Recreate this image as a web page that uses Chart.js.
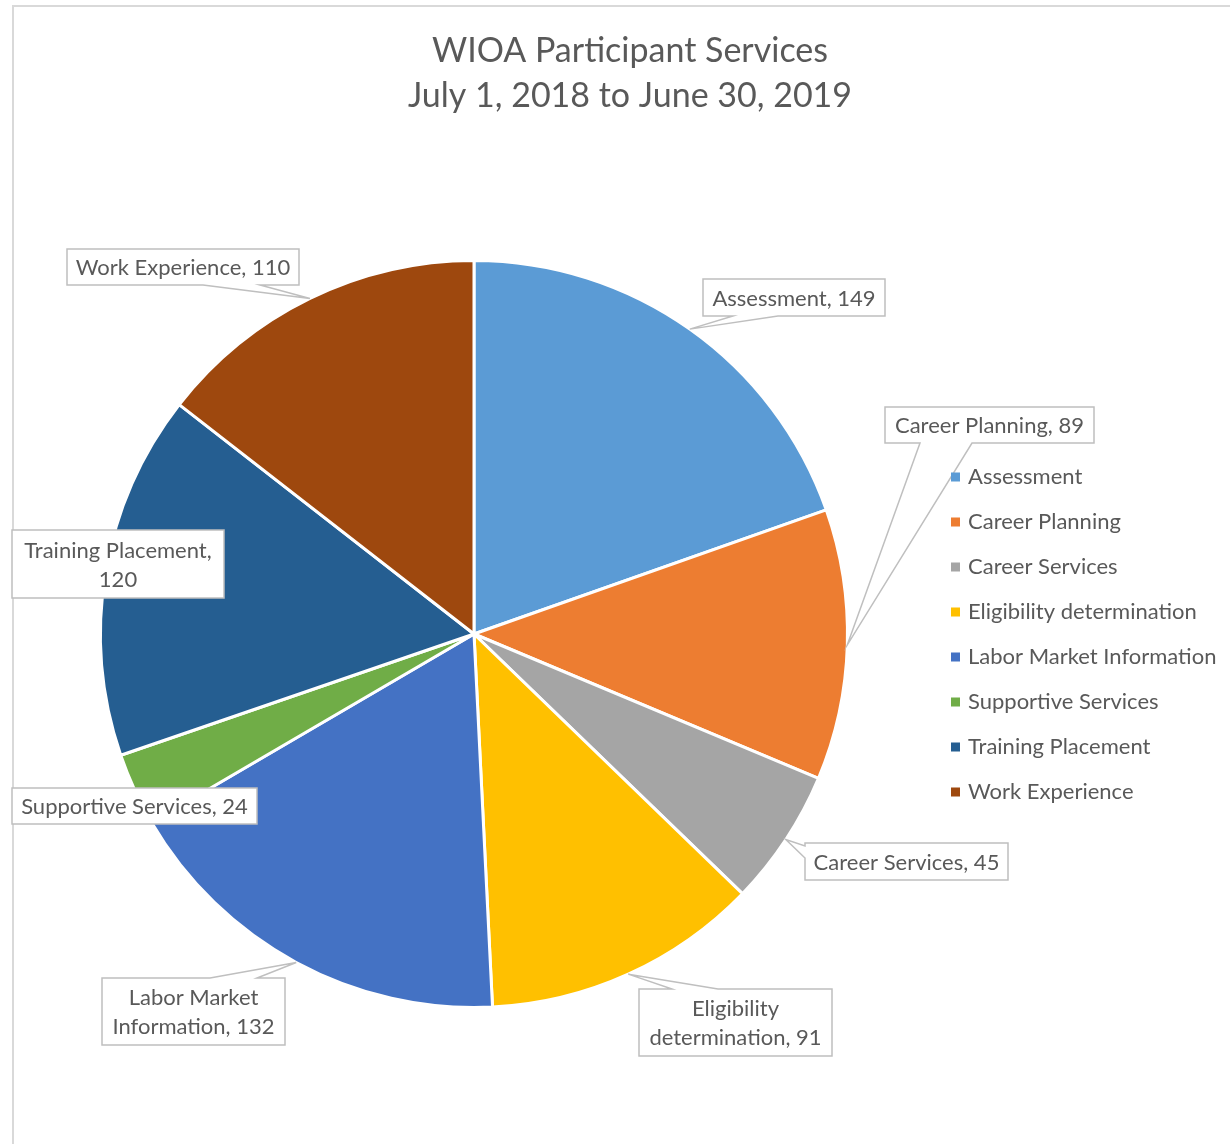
<!DOCTYPE html>
<html>
<head>
<meta charset="utf-8">
<title>WIOA Participant Services</title>
<script src="https://cdn.jsdelivr.net/npm/chart.js@4.4.1/dist/chart.umd.min.js"></script>
<style>
    html, body { margin: 0; padding: 0; background: #fff; overflow: hidden; }
    canvas { display: block; }
</style>
</head>
<body>
<canvas id="servicesChart" width="1230" height="1144"></canvas>
<script>
const categories = [
    'Assessment',
    'Career Planning',
    'Career Services',
    'Eligibility determination',
    'Labor Market Information',
    'Supportive Services',
    'Training Placement',
    'Work Experience'
];
const participants = [149, 89, 45, 91, 132, 24, 120, 110];
const titleLines = ['WIOA Participant Services', 'July 1, 2018 to June 30, 2019'];
const sliceColors = ['#5B9BD5', '#ED7D31', '#A5A5A5', '#FFC000', '#4472C4', '#70AD47', '#255E91', '#9E480E'];

// data label boxes; side/from/to say where the pointer leaves the box
const labelBoxes = [
    { x: 703, y: 279, w: 182, h: 37, side: 'bottom', from: 30, to: 75 },
    { x: 885, y: 407, w: 209, h: 36, side: 'bottom', from: 35, to: 87 },
    { x: 805, y: 843, w: 203, h: 37, side: 'left', from: 3, to: 15 },
    { x: 639, y: 989, w: 193, h: 67, side: 'top', from: 33, to: 79 },
    { x: 102, y: 978, w: 183, h: 67, side: 'top', from: 108, to: 155 },
    { x: 12, y: 788, w: 245, h: 36, side: null },
    { x: 12, y: 530, w: 212, h: 68, side: null },
    { x: 67, y: 249, w: 232, h: 36, side: 'bottom', from: 136, to: 193 }
];

const FONT = 'Lato, "Open Sans", sans-serif';
const TEXT_COLOR = '#595959';

function wrapText(ctx, text, maxWidth) {
    const words = text.split(' ');
    const lines = [];
    let line = '';
    words.forEach(word => {
        const test = line ? line + ' ' + word : word;
        if (line && ctx.measureText(test).width > maxWidth) {
            lines.push(line);
            line = word;
        } else {
            line = test;
        }
    });
    if (line) lines.push(line);
    return lines;
}

const frameAndTitle = {
    id: 'frameAndTitle',
    beforeDraw(chart) {
        const ctx = chart.ctx;
        ctx.save();
        ctx.fillStyle = '#fff';
        ctx.fillRect(0, 0, chart.width, chart.height);
        ctx.strokeStyle = '#d9d9d9';
        ctx.lineWidth = 2;
        ctx.beginPath();
        ctx.moveTo(13, chart.height);
        ctx.lineTo(13, 6);
        ctx.lineTo(chart.width, 6);
        ctx.stroke();

        ctx.fillStyle = TEXT_COLOR;
        ctx.font = '34px ' + FONT;
        ctx.textAlign = 'center';
        ctx.textBaseline = 'middle';
        titleLines.forEach((t, i) => ctx.fillText(t, 630, 51 + i * 45));
        ctx.restore();
    }
};

const calloutLabels = {
    id: 'calloutLabels',
    afterDatasetsDraw(chart) {
        const ctx = chart.ctx;
        const arcs = chart.getDatasetMeta(0).data;
        ctx.save();
        ctx.font = '22px ' + FONT;
        arcs.forEach((arc, i) => {
            const box = labelBoxes[i];
            const p = arc.getProps(['x', 'y', 'startAngle', 'endAngle', 'outerRadius'], true);
            const mid = (p.startAngle + p.endAngle) / 2;
            const tip = { x: p.x + Math.cos(mid) * p.outerRadius, y: p.y + Math.sin(mid) * p.outerRadius };
            const { x, y, w, h } = box;

            ctx.beginPath();
            ctx.moveTo(x, y);
            if (box.side === 'top') {
                ctx.lineTo(x + box.from, y);
                ctx.lineTo(tip.x, tip.y);
                ctx.lineTo(x + box.to, y);
            }
            ctx.lineTo(x + w, y);
            ctx.lineTo(x + w, y + h);
            if (box.side === 'bottom') {
                ctx.lineTo(x + box.to, y + h);
                ctx.lineTo(tip.x, tip.y);
                ctx.lineTo(x + box.from, y + h);
            }
            ctx.lineTo(x, y + h);
            if (box.side === 'left') {
                ctx.lineTo(x, y + box.to);
                ctx.lineTo(tip.x, tip.y);
                ctx.lineTo(x, y + box.from);
            }
            ctx.closePath();
            ctx.fillStyle = '#fff';
            ctx.fill();
            ctx.strokeStyle = '#bfbfbf';
            ctx.lineWidth = 1.5;
            ctx.stroke();

            const text = `${categories[i]}, ${participants[i]}`;
            const lines = wrapText(ctx, text, w - 12);
            const lineHeight = 29;
            ctx.fillStyle = TEXT_COLOR;
            ctx.textAlign = 'center';
            ctx.textBaseline = 'middle';
            const top = y + h / 2 + 1 - (lines.length - 1) * lineHeight / 2;
            lines.forEach((line, k) => ctx.fillText(line, x + w / 2, top + k * lineHeight));
        });
        ctx.restore();
    }
};

const sideLegend = {
    id: 'sideLegend',
    afterDraw(chart) {
        const ctx = chart.ctx;
        ctx.save();
        ctx.font = '22px ' + FONT;
        ctx.textAlign = 'left';
        ctx.textBaseline = 'middle';
        categories.forEach((name, i) => {
            const cy = 477 + i * 45;
            ctx.fillStyle = sliceColors[i];
            ctx.fillRect(951, cy - 4.5, 9, 9);
            ctx.fillStyle = TEXT_COLOR;
            ctx.fillText(name, 968, cy);
        });
        ctx.restore();
    }
};

document.addEventListener('DOMContentLoaded', () => {
    const ctx = document.getElementById('servicesChart').getContext('2d');
    new Chart(ctx, {
        type: 'pie',
        data: {
            labels: categories,
            datasets: [{
                data: participants,
                backgroundColor: sliceColors,
                borderColor: '#ffffff',
                borderWidth: 3
            }]
        },
        options: {
            responsive: false,
            animation: false,
            layout: { padding: { left: 99, right: 381, top: 259, bottom: 135 } },
            plugins: {
                legend: { display: false },
                tooltip: { enabled: false },
                title: { display: false }
            }
        },
        plugins: [frameAndTitle, calloutLabels, sideLegend]
    });
});
</script>
</body>
</html>
